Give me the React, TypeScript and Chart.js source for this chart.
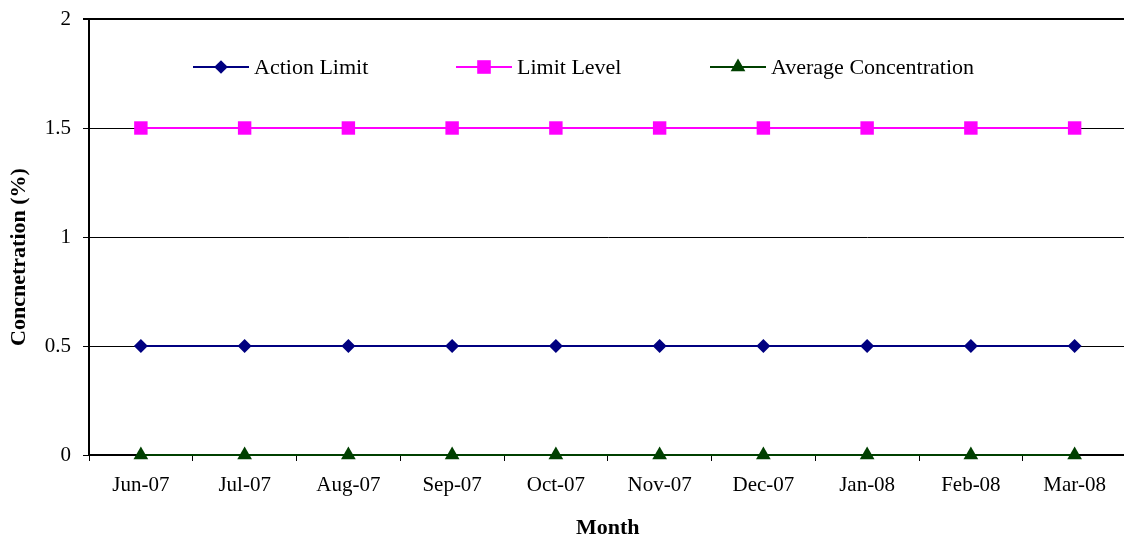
import React, { useEffect, useRef } from 'react';
import { Chart, registerables } from 'chart.js';

Chart.register(...registerables);

const months = ['Jun-07', 'Jul-07', 'Aug-07', 'Sep-07', 'Oct-07', 'Nov-07', 'Dec-07', 'Jan-08', 'Feb-08', 'Mar-08'];
const actionLimit = [0.5, 0.5, 0.5, 0.5, 0.5, 0.5, 0.5, 0.5, 0.5, 0.5];
const limitLevel = [1.5, 1.5, 1.5, 1.5, 1.5, 1.5, 1.5, 1.5, 1.5, 1.5];
const averageConcentration = [0, 0, 0, 0, 0, 0, 0, 0, 0, 0];
const seriesNames = ['Action Limit', 'Limit Level', 'Average Concentration'];
const yAxisTitle = 'Concnetration (%)';
const xAxisTitle = 'Month';
const yMin = 0;
const yMax = 2;
const yStep = 0.5;

const FONT = '"Liberation Serif", "Times New Roman", Times, serif';
const NAVY = '#000080';
const MAGENTA = '#FF00FF';
const GREEN = '#004000';

function drawMarker(ctx: CanvasRenderingContext2D, style: string, x: number, y: number, color: string) {
  ctx.save();
  ctx.fillStyle = color;
  ctx.beginPath();
  if (style === 'rectRot') {
    const r = 6.8;
    ctx.moveTo(x, y - r);
    ctx.lineTo(x + r, y);
    ctx.lineTo(x, y + r);
    ctx.lineTo(x - r, y);
  } else if (style === 'rect') {
    const s = 6.8;
    ctx.rect(x - s, y - s, 2 * s, 2 * s);
  } else {
    const r = 8.5;
    ctx.moveTo(x, y - r);
    ctx.lineTo(x + r * Math.cos(Math.PI / 6), y + r / 2);
    ctx.lineTo(x - r * Math.cos(Math.PI / 6), y + r / 2);
  }
  ctx.closePath();
  ctx.fill();
  ctx.restore();
}

const legendPlugin = {
  id: 'customLegend',
  afterDraw(chart: any) {
    const ctx: CanvasRenderingContext2D = chart.ctx;
    const starts = [193, 456, 710];
    const y = 67;
    const lineLen = 56;
    chart.data.datasets.forEach((ds: any, i: number) => {
      const x0 = starts[i];
      ctx.save();
      ctx.strokeStyle = ds.borderColor;
      ctx.lineWidth = 2;
      ctx.beginPath();
      ctx.moveTo(x0, y);
      ctx.lineTo(x0 + lineLen, y);
      ctx.stroke();
      drawMarker(ctx, ds.pointStyle, x0 + lineLen / 2, y, ds.pointBackgroundColor);
      ctx.fillStyle = '#000';
      ctx.font = `22px ${FONT}`;
      ctx.textAlign = 'left';
      ctx.textBaseline = 'middle';
      ctx.fillText(ds.label, x0 + lineLen + 5, y + 1);
      ctx.restore();
    });
    // vertical axis title
    ctx.save();
    ctx.translate(19, 257);
    ctx.rotate(-Math.PI / 2);
    ctx.fillStyle = '#000';
    ctx.font = `bold 22px ${FONT}`;
    ctx.textAlign = 'center';
    ctx.textBaseline = 'middle';
    ctx.fillText(yAxisTitle, 0, 0);
    ctx.restore();
  },
};

export default function App() {
  const canvasRef = useRef<HTMLCanvasElement | null>(null);

  useEffect(() => {
    document.body.style.margin = '0';
    document.body.style.overflow = 'hidden';
    const canvas = canvasRef.current;
    if (!canvas) return;
    const chart = new Chart(canvas, {
      type: 'line',
      data: {
        labels: months,
        datasets: [
          {
            label: seriesNames[0],
            data: actionLimit,
            borderColor: NAVY,
            backgroundColor: NAVY,
            pointBackgroundColor: NAVY,
            pointBorderColor: NAVY,
            pointStyle: 'rectRot',
            pointRadius: 7,
            pointBorderWidth: 0,
            borderWidth: 2,
            clip: false,
          },
          {
            label: seriesNames[1],
            data: limitLevel,
            borderColor: MAGENTA,
            backgroundColor: MAGENTA,
            pointBackgroundColor: MAGENTA,
            pointBorderColor: MAGENTA,
            pointStyle: 'rect',
            pointRadius: 9.5,
            pointBorderWidth: 0,
            borderWidth: 2,
            clip: false,
          },
          {
            label: seriesNames[2],
            data: averageConcentration,
            borderColor: GREEN,
            backgroundColor: GREEN,
            pointBackgroundColor: GREEN,
            pointBorderColor: GREEN,
            pointStyle: 'triangle',
            pointRadius: 8.5,
            pointBorderWidth: 0,
            borderWidth: 2,
            clip: false,
          },
        ],
      } as any,
      options: {
        animation: false,
        responsive: false,
        devicePixelRatio: 1,
        layout: { padding: { top: 19, right: 1, bottom: 5, left: 0 } },
        plugins: {
          legend: { display: false },
          tooltip: { enabled: false },
        },
        scales: {
          x: {
            offset: true,
            grid: {
              offset: true,
              drawOnChartArea: false,
              color: '#000',
              tickLength: 6,
              lineWidth: 1,
            },
            border: { color: '#000', width: 2 },
            ticks: {
              color: '#000',
              font: { family: FONT, size: 21 },
              padding: 12,
              maxRotation: 0,
              autoSkip: false,
            },
            title: {
              display: true,
              text: xAxisTitle,
              color: '#000',
              font: { family: FONT, size: 22, weight: 'bold' },
              padding: 0,
            },
            afterFit: (s: any) => {
              s.height = 87;
              s.paddingLeft = 0;
              s.paddingRight = 0;
            },
          },
          y: {
            min: yMin,
            max: yMax,
            ticks: {
              stepSize: yStep,
              color: '#000',
              font: { family: FONT, size: 21 },
              padding: 12,
              callback: (v: any) => String(v),
            },
            grid: {
              color: '#000',
              tickLength: 6,
              lineWidth: (c: any) => (c.tick && c.tick.value === yMax ? 2 : 1),
            },
            border: { color: '#000', width: 2 },
            title: { display: false },
            afterFit: (s: any) => {
              s.width = 89;
              s.paddingTop = 0;
              s.paddingBottom = 0;
            },
          },
        },
      } as any,
      plugins: [legendPlugin],
    });
    return () => chart.destroy();
  }, []);

  return (
    <div style={{ position: 'fixed', left: 0, top: 0, width: 1124, height: 538, overflow: 'hidden', background: '#fff' }}>
      <canvas ref={canvasRef} width={1136} height={547} style={{ display: 'block' }} />
    </div>
  );
}
